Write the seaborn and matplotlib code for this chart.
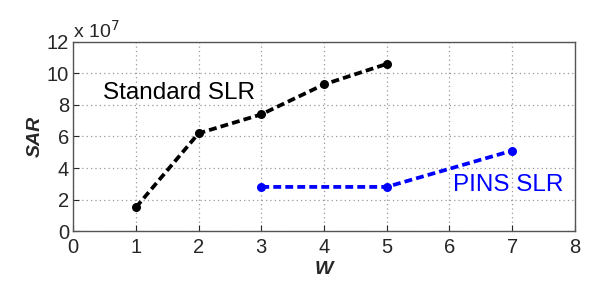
import matplotlib
matplotlib.use("Agg")
import matplotlib.pyplot as plt
import seaborn as sns
import pandas as pd

std_w = [1, 2, 3, 4, 5]
std_sar = [1.5, 6.2, 7.4, 9.3, 10.6]
pins_w = [3, 5, 7]
pins_sar = [2.8, 2.8, 5.1]
xticks = [0, 1, 2, 3, 4, 5, 6, 7, 8]
yticks = [0, 2, 4, 6, 8, 10, 12]

sns.set_style("ticks")
plt.rcParams['font.family'] = ['Liberation Sans', 'DejaVu Sans']

fig = plt.figure(figsize=(6, 2.97), dpi=100)
ax = fig.add_axes([0.122, 0.222, 0.836, 0.637])

df_std = pd.DataFrame({"W": std_w, "SAR": std_sar})
df_pins = pd.DataFrame({"W": pins_w, "SAR": pins_sar})

sns.lineplot(data=df_std, x="W", y="SAR", ax=ax, color="black", linewidth=2.7,
             marker="o", markersize=6.5, markeredgewidth=0)
sns.lineplot(data=df_pins, x="W", y="SAR", ax=ax, color="#0000ff", linewidth=2.7,
             marker="o", markersize=6.5, markeredgewidth=0)
for l in ax.lines:
    l.set_dashes([2.1, 1.1])

ax.set_xlim(0, 8)
ax.set_ylim(0, 12)
ax.set_xticks(xticks)
ax.set_yticks(yticks)
ax.tick_params(direction="in", labelsize=14.5, length=4, width=0.8)
ax.tick_params(axis="x", pad=5)
ax.tick_params(axis="y", pad=3)
ax.grid(True, linestyle=(0, (1, 2.5)), color="#999999", linewidth=0.9)
for s in ax.spines.values():
    s.set_color("#555555")
    s.set_linewidth(1.0)

ax.set_xlabel("W", fontsize=14, fontweight="bold", fontstyle="italic", labelpad=3)
ax.set_ylabel("SAR", fontsize=14, fontweight="bold", fontstyle="italic", labelpad=2)

ax.text(0.0, 1.0, "x 10$^{7}$", transform=ax.transAxes, fontsize=14, ha="left", va="bottom")
ax.text(0.48, 8.75, "Standard SLR", fontsize=17.5, color="black", va="center", ha="left")
ax.text(6.05, 2.9, "PINS SLR", fontsize=17.5, color="#0000ff", va="center", ha="left")

fig.savefig("out.png", dpi=100)
